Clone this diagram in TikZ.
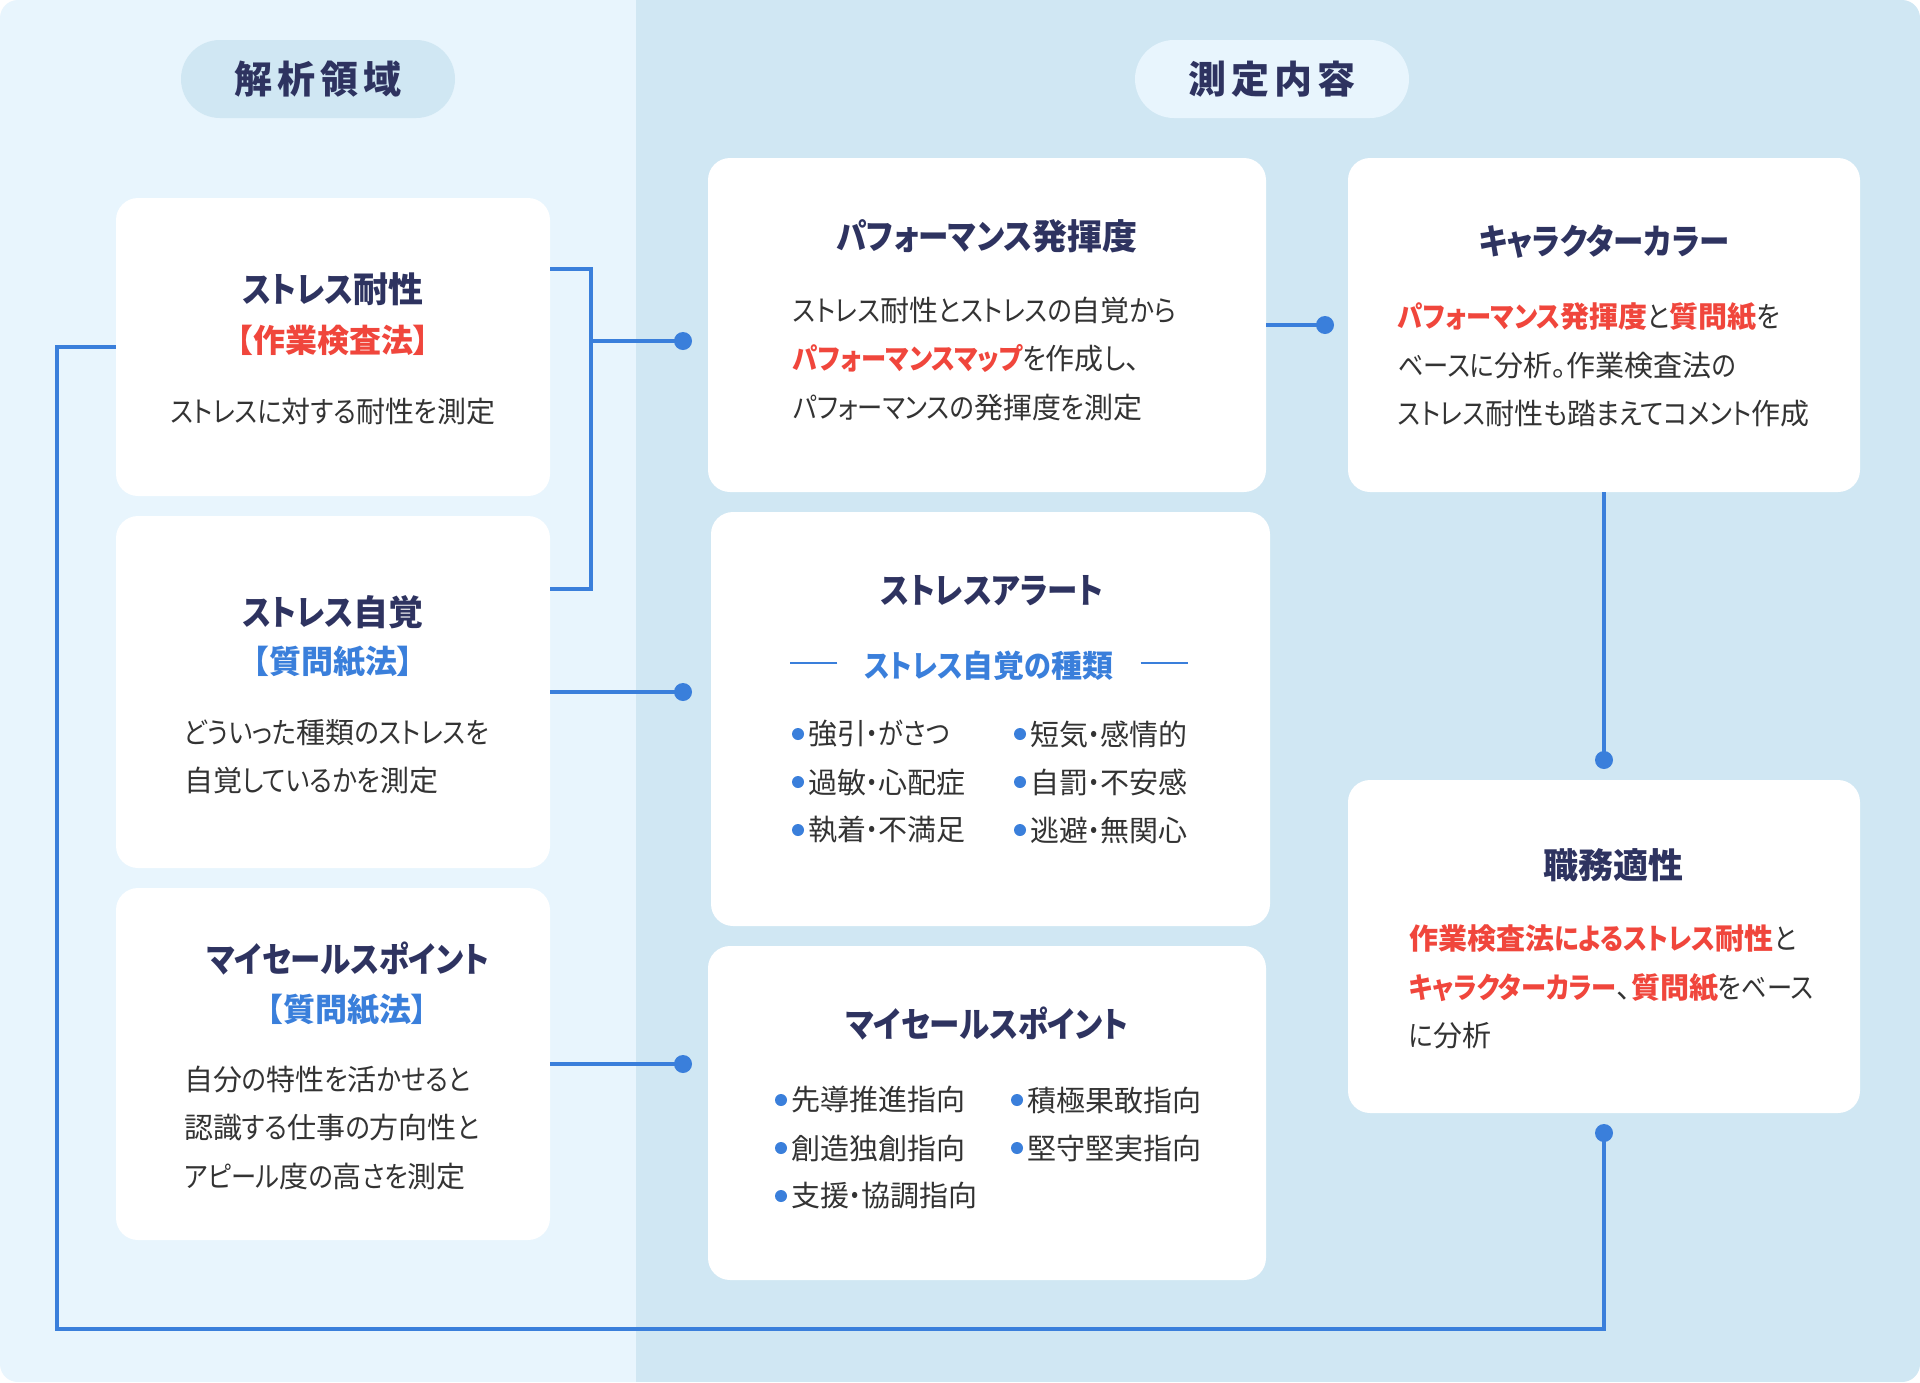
\documentclass[tikz,border=0pt]{standalone}
\usepackage{fontspec}
\newfontfamily\jp[RawFeature=+palt]{Noto Sans CJK JP}
\newfontfamily\jpk[RawFeature=+palt, FakeStretch=0.87]{Noto Sans CJK JP}
\usetikzlibrary{calc}
% narrow kana: give hiragana/katakana their own class and switch to a condensed copy
\newcount\kcnt
\kcnt="3041
\loop
  \XeTeXcharclass\kcnt=10
  \advance\kcnt by 1
\ifnum\kcnt<"3100 \repeat
\XeTeXinterchartoks 0 10 = {\jpk}
\XeTeXinterchartoks 1 10 = {\jpk}
\XeTeXinterchartoks 2 10 = {\jpk}
\XeTeXinterchartoks 3 10 = {\jpk}
\XeTeXinterchartoks 4095 10 = {\jpk}
\XeTeXinterchartoks 10 0 = {\jp}
\XeTeXinterchartoks 10 1 = {\jp}
\XeTeXinterchartoks 10 2 = {\jp}
\XeTeXinterchartoks 10 3 = {\jp}
\XeTeXinterchartoks 10 4095 = {\jp}
\definecolor{leftbg}{HTML}{E8F5FD}
\definecolor{rightbg}{HTML}{D0E7F3}
\definecolor{navy}{HTML}{2E3360}
\definecolor{accred}{HTML}{F0463C}
\definecolor{accblue}{HTML}{3A7FDB}
\definecolor{bodytxt}{HTML}{333333}
\newcommand\redem[1]{{\bfseries\color{accred}#1}}
\tikzset{
  card/.style={fill=white, rounded corners=22pt, inner sep=0pt},
  pill/.style={rounded corners=39pt, minimum height=78pt, minimum width=274pt, inner sep=0pt,
    font=\jp\bfseries\fontsize{38}{44}\selectfont, text=navy},
  ttl/.style={font=\jp\bfseries\fontsize{35}{40}\selectfont, text=navy, inner sep=0pt},
  meth/.style={font=\jp\bfseries\fontsize{32}{38}\selectfont, inner sep=0pt},
  subttl/.style={font=\jp\bfseries\fontsize{31}{36}\selectfont, text=accblue, inner sep=0pt},
  body/.style={font=\jp\fontsize{29}{48.5}\selectfont, text=bodytxt, inner sep=0pt, align=left, anchor=west},
  bodyc/.style={font=\jp\fontsize{29}{48.5}\selectfont, text=bodytxt, inner sep=0pt},
  conn/.style={draw=accblue, line width=4pt},
  jdot/.style={circle, fill=accblue, minimum size=18pt, inner sep=0pt},
  bdot/.style={circle, fill=accblue, minimum size=12pt, inner sep=0pt},
  btxt/.style={font=\jp\fontsize{29}{34}\selectfont, text=bodytxt, inner sep=0pt, anchor=west},
  sideline/.style={draw=accblue, line width=2pt}
}
\newcommand\bitem[4]{%
  \node[bdot] (#1d) at (#2,#3) {};
  \node[btxt] (#1) at ([xshift=10pt]#1d.center) {#4};}
\begin{document}
\XeTeXinterchartokenstate=1
\begin{tikzpicture}[x=1pt,y=-1pt]
\useasboundingbox (0,0) rectangle (1920,1382);
\fill[white] (0,0) rectangle (1920,1382);
\begin{scope}
  \clip[rounded corners=18pt] (0,0) rectangle (1920,1382);
  \fill[leftbg] (0,0) rectangle (636,1382);
  \fill[rightbg] (636,0) rectangle (1920,1382);
\end{scope}

% header pills
\node[pill, fill=rightbg] (P1) at (318,79) {解\kern5pt 析\kern5pt 領\kern5pt 域};
\node[pill, fill=leftbg] (P2) at (1272,79) {測\kern5pt 定\kern5pt 内\kern5pt 容};

% cards
\node[card, minimum width=434pt, minimum height=298pt] (A) at (333,347) {};
\node[card, minimum width=434pt, minimum height=352pt] (B) at (333,692) {};
\node[card, minimum width=434pt, minimum height=352pt] (C) at (333,1064) {};
\node[card, minimum width=558pt, minimum height=334pt] (D) at (987,325) {};
\node[card, minimum width=559pt, minimum height=414pt] (E) at (990.5,719) {};
\node[card, minimum width=558pt, minimum height=334pt] (F) at (987,1113) {};
\node[card, minimum width=512pt, minimum height=334pt] (G) at (1604,325) {};
\node[card, minimum width=512pt, minimum height=333pt] (H) at (1604,946.5) {};

% connector dots
\node[jdot] (d1) at (683,341) {};
\node[jdot] (d2) at (683,692) {};
\node[jdot] (d3) at (683,1064) {};
\node[jdot] (d4) at (1325,325) {};
\node[jdot] (d5) at (1604,760) {};
\node[jdot] (d6) at (1604,1133) {};

% connectors
\coordinate (jT) at (591,269);
\coordinate (jB) at (591,589);
\draw[conn] (A.east |- jT) -- (jT) -- (jB) -- (B.east |- jB);
\draw[conn] (jT |- d1) -- (d1.center);
\draw[conn] (B.east) -- (d2.center);
\draw[conn] (C.east) -- (d3.center);
\draw[conn] (D.east) -- (d4.center);
\draw[conn] (G.south) -- (d5.center);
\coordinate (L1) at (57,347);
\coordinate (L2) at (57,1329);
\draw[conn] (A.west) -- (L1) -- (L2) -| (d6.center);

% box A
\node[ttl] (At) at (333,289) {ストレス耐性};
\node[meth, text=accred] (Am) at (333,340) {【作業検査法】};
\node[bodyc] (Ab) at (333,412) {ストレスに対する耐性を測定};

% box B
\node[ttl] (Bt) at (333,612) {ストレス自覚};
\node[meth, text=accblue] (Bm) at (333,662) {【質問紙法】};
\node[body] (Bb) at (184,756.5) {どういった種類のストレスを\\自覚しているかを測定};

% box C
\node[ttl] (Ct) at (348,959) {マイセールスポイント};
\node[meth, text=accblue] (Cm) at (347,1010) {【質問紙法】};
\node[body] (Cb) at (184,1128) {自分の特性を活かせると\\認識する仕事の方向性と\\アピール度の高さを測定};

% box D
\node[ttl] (Dt) at (987,236) {パフォーマンス発揮度};
\node[body] (Db) at (793,359) {ストレス耐性とストレスの自覚から\\\redem{パフォーマンスマップ}を作成し、\\パフォーマンスの発揮度を測定};

% box E
\node[ttl] (Et) at (992,591) {ストレスアラート};
\node[subttl] (Es) at (989,666) {ストレス自覚の種類};
\draw[sideline] ([xshift=-27pt,yshift=3pt]Es.west) -- ++(-47,0);
\draw[sideline] ([xshift=27pt,yshift=3pt]Es.east) -- ++(47,0);
\bitem{e1}{798}{734}{強引・がさつ}
\bitem{e2}{1020}{734}{短気・感情的}
\bitem{e3}{798}{782}{過敏・心配症}
\bitem{e4}{1020}{782}{自罰・不安感}
\bitem{e5}{798}{830}{執着・不満足}
\bitem{e6}{1020}{830}{逃避・無関心}

% box F
\node[ttl] (Ft) at (987,1024) {マイセールスポイント};
\bitem{f1}{781}{1100}{先導推進指向}
\bitem{f2}{1017}{1100}{積極果敢指向}
\bitem{f3}{781}{1148}{創造独創指向}
\bitem{f4}{1017}{1148}{堅守堅実指向}
\bitem{f5}{781}{1196}{支援・協調指向}

% box G
\node[ttl] (Gt) at (1604,242) {キャラクターカラー};
\node[body] (Gb) at (1398,365) {\redem{パフォーマンス発揮度}と\redem{質問紙}を\\ベースに分析。作業検査法の\\ストレス耐性も踏まえてコメント作成};

% box H
\node[ttl] (Ht) at (1613,865) {職務適性};
\node[body] (Hb) at (1409,987) {\redem{作業検査法によるストレス耐性}と\\\redem{キャラクターカラー}、\redem{質問紙}をベース\\に分析};
\end{tikzpicture}
\end{document}
